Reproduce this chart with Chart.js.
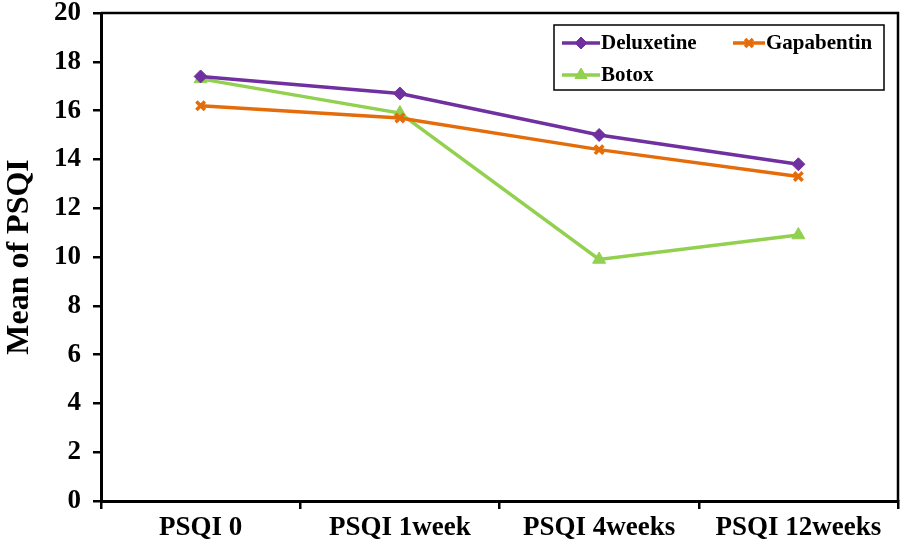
<!DOCTYPE html>
<html>
<head>
<meta charset="utf-8">
<script src="https://cdn.jsdelivr.net/npm/chart.js@4/dist/chart.umd.min.js"></script>
<style>
  html, body { margin: 0; padding: 0; background: #fff; }
  #wrap { width: 904px; height: 544px; position: relative; }
</style>
</head>
<body>
<div id="wrap"><canvas id="psqi-chart"></canvas></div>
<script>
/* ── Data ─────────────────────────────────────────────── */
const categories  = ['PSQI 0', 'PSQI 1week', 'PSQI 4weeks', 'PSQI 12weeks'];
const deluxetine  = [17.4, 16.7, 15.0, 13.8];
const gapabentin  = [16.2, 15.7, 14.4, 13.3];
const botox       = [17.3, 15.9, 9.9, 10.9];
const yTicks      = [0, 2, 4, 6, 8, 10, 12, 14, 16, 18, 20];

const FONT = "'Liberation Serif', 'Times New Roman', serif";
const COLORS = { deluxetine: '#7030A0', gapabentin: '#E46C0A', botox: '#92D050' };

/* ── Plugins ──────────────────────────────────────────── */
// top + right edge of the plot box
const plotFrame = {
  id: 'plotFrame',
  afterDraw(chart) {
    const { ctx, chartArea: a } = chart;
    ctx.save();
    ctx.strokeStyle = '#000';
    ctx.lineWidth = 2.5;
    ctx.beginPath();
    ctx.moveTo(a.left, a.top);
    ctx.lineTo(a.right, a.top);
    ctx.lineTo(a.right, a.bottom);
    ctx.stroke();
    ctx.restore();
  },
};

// boxed legend inside the plot, two columns
const boxLegend = {
  id: 'boxLegend',
  afterDraw(chart) {
    const { ctx, chartArea: a } = chart;
    const ds = chart.data.datasets;
    const w = 330, h = 65;
    const left = a.right - w - 14, top = a.top + 12;
    const slots = [
      { x: left + 8,   y: top + 18 },
      { x: left + 179, y: top + 18 },
      { x: left + 8,   y: top + 50 },
    ];

    ctx.save();
    ctx.fillStyle = '#fff';
    ctx.fillRect(left, top, w, h);
    ctx.strokeStyle = '#000';
    ctx.lineWidth = 1.5;
    ctx.strokeRect(left, top, w, h);

    ctx.font = `bold 21px ${FONT}`;
    ctx.textBaseline = 'middle';
    ctx.textAlign = 'left';

    ds.forEach((d, i) => {
      const s = slots[i];
      const len = i === 1 ? 32 : 38;
      ctx.strokeStyle = d.borderColor;
      ctx.fillStyle = d.borderColor;
      ctx.lineWidth = d.borderWidth;
      ctx.beginPath();
      ctx.moveTo(s.x, s.y);
      ctx.lineTo(s.x + len, s.y);
      ctx.stroke();
      ctx.lineWidth = d.pointBorderWidth;
      Chart.helpers.drawPoint(ctx, {
        pointStyle: d.pointStyle,
        radius: d.pointRadius - 0.5,
        borderWidth: d.pointBorderWidth,
        rotation: 0,
      }, s.x + len / 2, s.y);
      ctx.fillStyle = '#000';
      ctx.fillText(d.label, s.x + len + 1, s.y + 1);
    });
    ctx.restore();
  },
};

/* ── Chart ────────────────────────────────────────────── */
function series(label, data, color, style, radius, bw) {
  return {
    label, data,
    borderColor: color,
    backgroundColor: color,
    borderWidth: 3.5,
    pointStyle: style,
    pointRadius: radius,
    pointBorderWidth: bw,
    pointBackgroundColor: color,
    pointBorderColor: color,
    tension: 0,
  };
}

function noPad(scale) {
  scale.paddingTop = 0; scale.paddingBottom = 0;
  scale.paddingLeft = 0; scale.paddingRight = 0;
}

new Chart(document.getElementById('psqi-chart'), {
  type: 'line',
  data: {
    labels: categories,
    datasets: [
      series('Deluxetine', deluxetine, COLORS.deluxetine, 'rectRot', 6.5, 1),
      series('Gapabentin', gapabentin, COLORS.gapabentin, 'crossRot', 6, 3.5),
      series('Botox', botox, COLORS.botox, 'triangle', 7.5, 1),
    ],
  },
  options: {
    responsive: true,
    maintainAspectRatio: false,
    animation: false,
    layout: { autoPadding: false, padding: { top: 13, right: 6, bottom: 0, left: 0 } },
    plugins: {
      legend: { display: false },
      tooltip: { enabled: false },
    },
    scales: {
      x: {
        offset: true,
        grid: { offset: true, drawOnChartArea: false, drawTicks: true, tickLength: 8, color: '#000', lineWidth: 2.5 },
        border: { color: '#000', width: 3 },
        ticks: { color: '#000', padding: 3, maxRotation: 0, font: { family: FONT, size: 27, weight: 'bold' } },
        afterFit(scale) { scale.height = 43; noPad(scale); },
      },
      y: {
        min: 0,
        max: 20,
        afterBuildTicks(scale) { scale.ticks = yTicks.map(v => ({ value: v })); },
        grid: { drawOnChartArea: false, drawTicks: true, tickLength: 8, color: '#000', lineWidth: 2.5 },
        border: { color: '#000', width: 3 },
        ticks: { color: '#000', padding: 12, font: { family: FONT, size: 27, weight: 'bold' } },
        title: {
          display: true,
          text: 'Mean of PSQI',
          color: '#000',
          padding: { top: 1, bottom: 0 },
          font: { family: FONT, size: 32, weight: 'bold' },
        },
        afterFit(scale) { scale.width = 101; noPad(scale); },
      },
    },
  },
  plugins: [plotFrame, boxLegend],
});
</script>
</body>
</html>
